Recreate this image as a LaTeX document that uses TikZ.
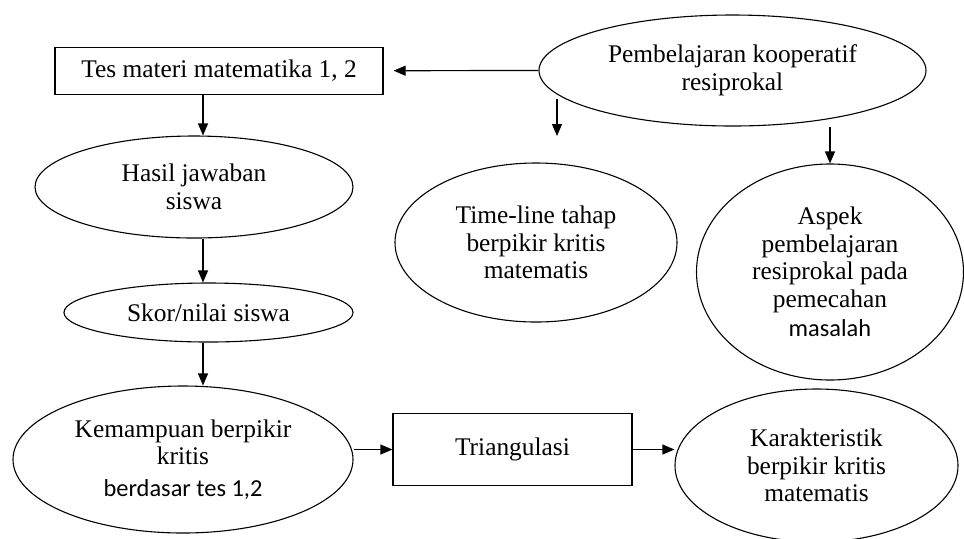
\documentclass[tikz,border=0pt]{standalone}
\usepackage{fontspec}
\setmainfont{Liberation Serif}
\newfontfamily\calib{Carlito}
\usetikzlibrary{shapes.geometric,arrows.meta,calc}
\begin{document}
\begin{tikzpicture}[x=0.5pt,y=-0.5pt,
  every node/.style={font=\fontsize{12.7}{13.8}\selectfont, align=center, inner sep=0pt},
  ell/.style={draw, ellipse, line width=0.55pt},
  boxnode/.style={draw, rectangle, line width=0.6pt},
  sanstxt/.style={font=\calib\fontsize{12.2}{13.8}\selectfont},
  arr/.style={-{Triangle[length=6pt,width=5pt]}, line width=0.6pt}]
\useasboundingbox (0,0) rectangle (964,538);
% nodes
\node[boxnode, minimum width=164pt, minimum height=23.4pt] (tes) at (219,70.7) {Tes materi matematika 1, 2};
\node[ell, minimum width=193.5pt, minimum height=55.5pt] (pk) at (732.5,70.5) {Pembelajaran kooperatif\\resiprokal};
\node[ell, minimum width=159pt, minimum height=51pt] (has) at (194,187) {Hasil jawaban\\siswa};
\node[ell, minimum width=144.5pt, minimum height=29.5pt] (sk) at (208.5,312.5) {Skor/nilai siswa};
\node[ell, minimum width=170pt, minimum height=73.5pt] (kem) at (183,459.5) {Kemampuan berpikir\\kritis\\[2pt]{\calib\fontsize{12.2}{13.8}\selectfont berdasar tes 1,2}};
\node[boxnode, minimum width=119.5pt, minimum height=36pt] (tri) at (512.5,449.5) {Triangulasi};
\node[ell, minimum width=141.5pt, minimum height=76.5pt] (kar) at (816.5,465.5) {Karakteristik\\berpikir kritis\\matematis};
\node[ell, minimum width=141pt, minimum height=79.5pt] (tl) at (536,242.5) {Time-line tahap\\berpikir kritis\\matematis};
\node[ell, minimum width=133.5pt, minimum height=108pt] (asp) at (830,272) {Aspek\\pembelajaran\\resiprokal pada\\pemecahan\\[1pt]{\calib\fontsize{12.2}{13.8}\selectfont masalah}};
% helper coordinates
\coordinate (cx) at (203,0);
\coordinate (d0) at (557,99);
\coordinate (d1) at (557,136);
% connectors
\draw[arr, shorten >=5pt] (pk.west) -- (tes.east);
\draw[arr] (d0) -- (d1);
\draw[arr] (asp.north |- pk.south) -- (asp.north);
\draw[arr] (tes.south -| cx) -- (has.north -| cx);
\draw[arr] (has.south -| cx) -- (sk.north -| cx);
\draw[arr] (sk.south -| cx) -- (kem.north -| cx);
\draw[arr] (kem.east |- tri.west) -- (tri.west);
\draw[arr] (tri.east) -- (tri.east -| kar.west);
\end{tikzpicture}
\end{document}
